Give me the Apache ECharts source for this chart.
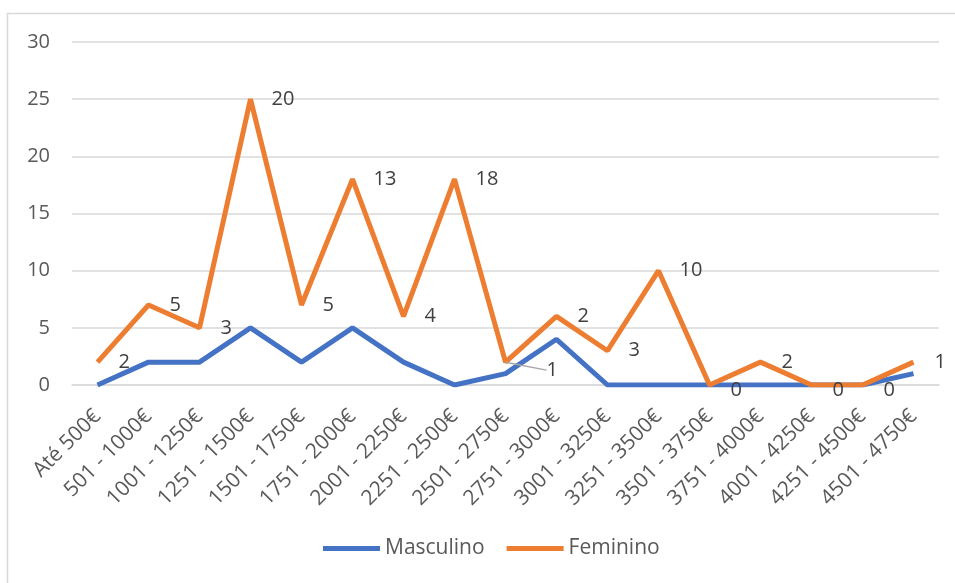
<!DOCTYPE html>
<html>
<head>
<meta charset="utf-8">
<script src="https://cdn.jsdelivr.net/npm/echarts@6/dist/echarts.min.js"></script>
<style>
  html, body { margin: 0; padding: 0; background: #fff; }
  #grafico { width: 955px; height: 583px; }
</style>
</head>
<body>
<div id="grafico"></div>
<script>
// categorias de rendimento
const categorias = ['Até 500€', '501 - 1000€', '1001 - 1250€', '1251 - 1500€', '1501 - 1750€',
  '1751 - 2000€', '2001 - 2250€', '2251 - 2500€', '2501 - 2750€', '2751 - 3000€', '3001 - 3250€',
  '3251 - 3500€', '3501 - 3750€', '3751 - 4000€', '4001 - 4250€', '4251 - 4500€', '4501 - 4750€'];
const masculino = [0, 2, 2, 5, 2, 5, 2, 0, 1, 4, 0, 0, 0, 0, 0, 0, 1];
const feminino = [2, 5, 3, 20, 5, 13, 4, 18, 1, 2, 3, 10, 0, 2, 0, 0, 1];
const yTicks = [0, 5, 10, 15, 20, 25, 30];

const fonte = '"Open Sans", "Liberation Sans", sans-serif';
const cinza = '#595959';

let chart = echarts.init(document.getElementById('grafico'));
chart.setOption({
  animation: false,
  graphic: [{
    type: 'rect',
    shape: { x: 7.5, y: 13.5, width: 1000, height: 1000 },
    style: { fill: 'none', stroke: '#d9d9d9', lineWidth: 1.5 }
  }],
  grid: { left: 72, right: 16, top: 42, bottom: 198 },
  legend: {
    bottom: 19,
    left: 318,
    icon: 'rect',
    itemWidth: 57,
    itemHeight: 5,
    itemGap: 22,
    textStyle: { color: cinza, fontSize: 21, fontFamily: fonte },
    data: ['Masculino', 'Feminino']
  },
  xAxis: {
    type: 'category',
    data: categorias,
    boundaryGap: true,
    axisLine: { lineStyle: { color: '#d9d9d9', width: 1.5 } },
    axisTick: { show: false },
    axisLabel: { rotate: 45, interval: 0, margin: 28, color: cinza, fontSize: 21, fontFamily: fonte }
  },
  yAxis: {
    type: 'value',
    min: yTicks[0],
    max: yTicks[yTicks.length - 1],
    interval: 5,
    axisLine: { show: false },
    axisTick: { show: false },
    axisLabel: { margin: 22, color: cinza, fontSize: 20, fontFamily: fonte },
    splitLine: { lineStyle: { color: '#d9d9d9', width: 1.5 } }
  },
  series: [{
    name: 'Masculino',
    type: 'line',
    stack: 'total',
    data: masculino,
    symbol: 'none',
    lineStyle: { color: '#4472C4', width: 5 },
    itemStyle: { color: '#4472C4' }
  }, {
    name: 'Feminino',
    type: 'line',
    stack: 'total',
    data: feminino.map((v, i) => i === 8 ? { value: v, labelLine: { show: true } } : v),
    symbol: 'circle',
    symbolSize: 0.1,
    showSymbol: true,
    lineStyle: { color: '#ED7D31', width: 5 },
    itemStyle: { color: '#ED7D31' },
    label: {
      show: true,
      position: 'right',
      distance: 21,
      color: '#404040',
      fontSize: 20,
      fontFamily: fonte
    },
    labelLine: { show: false, lineStyle: { color: '#a6a6a6', width: 1.5 } },
    labelLayout: function (p) {
      if (p.dataIndex === 8) return { dx: 20, dy: 8 };
      if (feminino[p.dataIndex] === 0) return { dy: 5 };
      return {};
    }
  }]
});
</script>
</body>
</html>
